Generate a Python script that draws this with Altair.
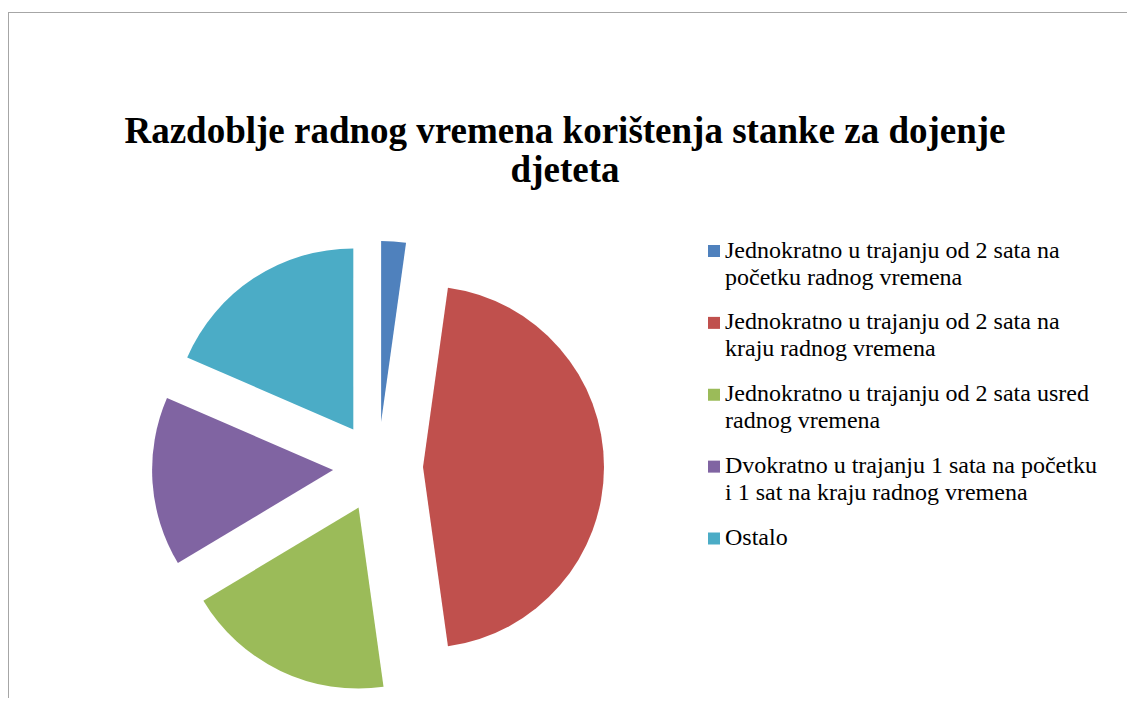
import altair as alt
import pandas as pd

FONT = "Liberation Serif"

title_lines = ["Razdoblje radnog vremena korištenja stanke za dojenje", "djeteta"]
categories = [
    "Jednokratno u trajanju od 2 sata na početku radnog vremena",
    "Jednokratno u trajanju od 2 sata na kraju radnog vremena",
    "Jednokratno u trajanju od 2 sata usred radnog vremena",
    "Dvokratno u trajanju 1 sata na početku i 1 sat na kraju radnog vremena",
    "Ostalo",
]
legend_labels = [
    "Jednokratno u trajanju od 2 sata na\npočetku radnog vremena",
    "Jednokratno u trajanju od 2 sata na\nkraju radnog vremena",
    "Jednokratno u trajanju od 2 sata usred\nradnog vremena",
    "Dvokratno u trajanju 1 sata na početku\ni 1 sat na kraju radnog vremena",
    "Ostalo",
]
values = [2.2, 45.6, 18.6, 15.1, 18.5]
colors = ["#4F81BD", "#C0504D", "#9BBB59", "#8064A2", "#4BACC6"]

df = pd.DataFrame({
    "kategorija": categories,
    "oznaka": legend_labels,
    "udio": values,
    "red": list(range(len(categories))),
})

W, H = 1119, 686
R = 181
EXPLODE = 45 / 181
CX, CY = 370, 455

color = alt.Color("kategorija:N", scale=alt.Scale(domain=categories, range=colors), legend=None)
base = alt.Chart(df)

pie = (
    base.transform_joinaggregate(total="sum(udio)")
    .transform_window(cum="sum(udio)", sort=[alt.SortField("red")], frame=[None, 0])
    .transform_calculate(
        t1="2*PI*datum.cum/datum.total",
        t0="2*PI*(datum.cum-datum.udio)/datum.total",
    )
    .transform_calculate(mid="(datum.t0+datum.t1)/2")
    .transform_calculate(
        ox=f"{EXPLODE}*sin(datum.mid)",
        oy=f"{EXPLODE}*cos(datum.mid)",
    )
    .mark_arc(outerRadius=R)
    .encode(
        theta=alt.Theta("t0:Q", scale=None, stack=None),
        theta2="t1:Q",
        x=alt.X("ox:Q", scale=alt.Scale(domain=[-1, 1], range=[CX - R, CX + R]), axis=None),
        y=alt.Y("oy:Q", scale=alt.Scale(domain=[-1, 1], range=[CY + R, CY - R]), axis=None),
        color=color,
    )
)

leg_y = alt.Y("red:Q", scale=alt.Scale(domain=[0, 4], range=[245.5, 533]), axis=None)
leg_sq = base.mark_square(size=144, opacity=1, yOffset=-6.5).encode(
    x=alt.value(706), y=leg_y, color=color
)
leg_txt = base.mark_text(
    align="left", baseline="alphabetic", lineBreak="\n", lineHeight=27,
    font=FONT, fontSize=24, color="black",
).encode(x=alt.value(717), y=leg_y, text="oznaka:N")

bd = alt.Chart(pd.DataFrame({"k": [0]})).mark_rule(color="#A6A6A6", strokeWidth=1)
top_rule = bd.encode(x=alt.value(0), x2=alt.value(W), y=alt.value(0.5))
left_rule = bd.encode(x=alt.value(0.5), y=alt.value(0), y2=alt.value(H))

chart = (
    alt.layer(pie, leg_sq, leg_txt, top_rule, left_rule)
    .resolve_scale(x="independent", y="independent")
    .properties(
        width=W,
        height=H,
        autosize=alt.AutoSizeParams(type="none"),
        padding={"left": 0, "top": 4, "right": 0, "bottom": 0},
        title=alt.TitleParams(
            text=title_lines, font=FONT, fontSize=37, fontWeight="bold",
            color="black", anchor="middle", frame="group", offset=-178,
            lineHeight=39, dx=-2.5,
        ),
    )
    .configure_view(stroke=None)
)

chart.save("out.html", embed_options={"renderer": "svg", "actions": False})
